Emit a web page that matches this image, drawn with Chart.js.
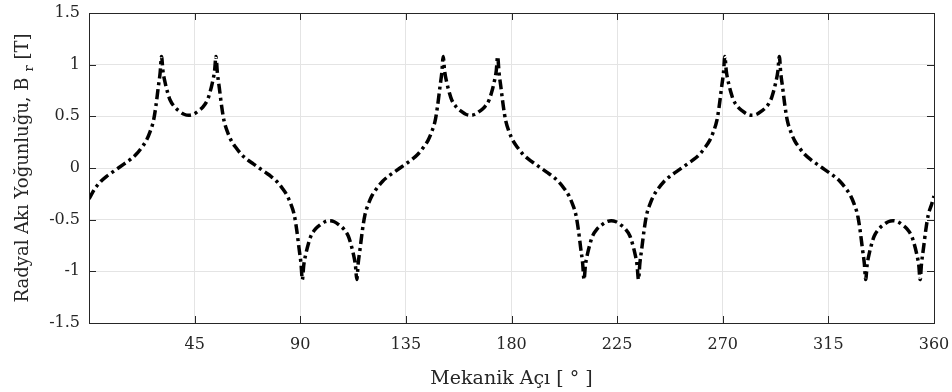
<!DOCTYPE html>
<html>
<head>
<meta charset="utf-8">
<script src="https://cdn.jsdelivr.net/npm/chart.js@4.4.1/dist/chart.umd.min.js"></script>
<style>
  html, body { margin: 0; padding: 0; background: #fff; }
  #wrap { width: 952px; height: 392px; }
</style>
</head>
<body>
<div id="wrap"><canvas id="chart" width="952" height="392"></canvas></div>
<script>
// Radial flux density vs mechanical angle
const angles = [
  0, 2.5, 5, 7.5, 10,
  12.5, 15, 17.5, 20, 22.5, 24.5, 26, 27.5, 28.5, 29.5, 30.3, 30.9, 31.5, 32.5, 33.5, 34.5, 36.5, 38.5, 40.5,
  42.5, 44.5, 46.5, 48.5, 50.5, 51.5, 52.5, 53.5, 54.1, 54.7, 55.5, 56.5, 57.5, 59, 60.5, 62.5, 65, 67.5, 70,
  72.5, 75, 77.5, 80, 82.5, 84.5, 86, 87.5, 88.5, 89.5, 90.3, 90.9, 91.5, 92.5, 93.5, 94.5, 96.5, 98.5, 100.5,
  102.5, 104.5, 106.5, 108.5, 110.5, 111.5, 112.5, 113.5, 114.1, 114.7, 115.5, 116.5, 117.5, 119, 120.5, 122.5, 125, 127.5, 130,
  132.5, 135, 137.5, 140, 142.5, 144.5, 146, 147.5, 148.5, 149.5, 150.3, 150.9, 151.5, 152.5, 153.5, 154.5, 156.5, 158.5, 160.5,
  162.5, 164.5, 166.5, 168.5, 170.5, 171.5, 172.5, 173.5, 174.1, 174.7, 175.5, 176.5, 177.5, 179, 180.5, 182.5, 185, 187.5, 190,
  192.5, 195, 197.5, 200, 202.5, 204.5, 206, 207.5, 208.5, 209.5, 210.3, 210.9, 211.5, 212.5, 213.5, 214.5, 216.5, 218.5, 220.5,
  222.5, 224.5, 226.5, 228.5, 230.5, 231.5, 232.5, 233.5, 234.1, 234.7, 235.5, 236.5, 237.5, 239, 240.5, 242.5, 245, 247.5, 250,
  252.5, 255, 257.5, 260, 262.5, 264.5, 266, 267.5, 268.5, 269.5, 270.3, 270.9, 271.5, 272.5, 273.5, 274.5, 276.5, 278.5, 280.5,
  282.5, 284.5, 286.5, 288.5, 290.5, 291.5, 292.5, 293.5, 294.1, 294.7, 295.5, 296.5, 297.5, 299, 300.5, 302.5, 305, 307.5, 310,
  312.5, 315, 317.5, 320, 322.5, 324.5, 326, 327.5, 328.5, 329.5, 330.3, 330.9, 331.5, 332.5, 333.5, 334.5, 336.5, 338.5, 340.5,
  342.5, 344.5, 346.5, 348.5, 350.5, 351.5, 352.5, 353.5, 354.1, 354.7, 355.5, 356.5, 357.5, 359, 360
];

const brValues = [
  -0.3, -0.2, -0.13, -0.08, -0.04,
  0, 0.04, 0.08, 0.13, 0.2, 0.27, 0.35, 0.46, 0.6, 0.78, 0.92, 1.08, 0.94, 0.82, 0.73, 0.66, 0.59, 0.55, 0.52,
  0.51, 0.52, 0.55, 0.59, 0.66, 0.73, 0.82, 0.94, 1.08, 0.92, 0.78, 0.6, 0.46, 0.35, 0.27, 0.2, 0.13, 0.08, 0.04,
  0, -0.04, -0.08, -0.13, -0.2, -0.27, -0.35, -0.46, -0.6, -0.78, -0.92, -1.08, -0.94, -0.82, -0.73, -0.66, -0.59, -0.55, -0.52,
  -0.51, -0.52, -0.55, -0.59, -0.66, -0.73, -0.82, -0.94, -1.08, -0.92, -0.78, -0.6, -0.46, -0.35, -0.27, -0.2, -0.13, -0.08, -0.04,
  0, 0.04, 0.08, 0.13, 0.2, 0.27, 0.35, 0.46, 0.6, 0.78, 0.92, 1.08, 0.94, 0.82, 0.73, 0.66, 0.59, 0.55, 0.52,
  0.51, 0.52, 0.55, 0.59, 0.66, 0.73, 0.82, 0.94, 1.08, 0.92, 0.78, 0.6, 0.46, 0.35, 0.27, 0.2, 0.13, 0.08, 0.04,
  0, -0.04, -0.08, -0.13, -0.2, -0.27, -0.35, -0.46, -0.6, -0.78, -0.92, -1.08, -0.94, -0.82, -0.73, -0.66, -0.59, -0.55, -0.52,
  -0.51, -0.52, -0.55, -0.59, -0.66, -0.73, -0.82, -0.94, -1.08, -0.92, -0.78, -0.6, -0.46, -0.35, -0.27, -0.2, -0.13, -0.08, -0.04,
  0, 0.04, 0.08, 0.13, 0.2, 0.27, 0.35, 0.46, 0.6, 0.78, 0.92, 1.08, 0.94, 0.82, 0.73, 0.66, 0.59, 0.55, 0.52,
  0.51, 0.52, 0.55, 0.59, 0.66, 0.73, 0.82, 0.94, 1.08, 0.92, 0.78, 0.6, 0.46, 0.35, 0.27, 0.2, 0.13, 0.08, 0.04,
  0, -0.04, -0.08, -0.13, -0.2, -0.27, -0.35, -0.46, -0.6, -0.78, -0.92, -1.08, -0.94, -0.82, -0.73, -0.66, -0.59, -0.55, -0.52,
  -0.51, -0.52, -0.55, -0.59, -0.66, -0.73, -0.82, -0.94, -1.08, -0.92, -0.78, -0.6, -0.46, -0.35, -0.27, -0.3
];

const xTicks = [45, 90, 135, 180, 225, 270, 315, 360];
const yTicks = [-1.5, -1, -0.5, 0, 0.5, 1, 1.5];
const xTitle = 'Mekanik Açı [ ° ]';
const yTitle = ['Radyal Akı Yoğunluğu, B', 'r', ' [T]'];

const FONT = 'DejaVu Serif';
const INK = '#262626';

// MATLAB-like box with inward tick marks and the two axis titles
const axesDecor = {
  id: 'axesDecor',
  afterDraw(chart) {
    const { ctx, chartArea: a, scales } = chart;
    ctx.save();
    ctx.strokeStyle = INK;
    ctx.lineWidth = 1;
    ctx.strokeRect(Math.round(a.left) + 0.5, Math.round(a.top) + 0.5,
      Math.round(a.right - a.left), Math.round(a.bottom - a.top));

    const tl = 7;
    ctx.beginPath();
    for (const v of xTicks) {
      const px = Math.round(scales.x.getPixelForValue(v)) + 0.5;
      ctx.moveTo(px, a.bottom); ctx.lineTo(px, a.bottom - tl);
      ctx.moveTo(px, a.top); ctx.lineTo(px, a.top + tl);
    }
    for (const v of yTicks) {
      const py = Math.round(scales.y.getPixelForValue(v)) + 0.5;
      ctx.moveTo(a.left, py); ctx.lineTo(a.left + tl, py);
      ctx.moveTo(a.right, py); ctx.lineTo(a.right - tl, py);
    }
    ctx.stroke();

    // x title
    ctx.fillStyle = INK;
    ctx.font = `19px "${FONT}"`;
    ctx.textAlign = 'center';
    ctx.textBaseline = 'alphabetic';
    ctx.fillText(xTitle, (a.left + a.right) / 2, 384);

    // y title with subscript r
    ctx.translate(28, (a.top + a.bottom) / 2);
    ctx.rotate(-Math.PI / 2);
    ctx.textAlign = 'left';
    const big = `18px "${FONT}"`, small = `13px "${FONT}"`;
    ctx.font = big;
    const w1 = ctx.measureText(yTitle[0]).width;
    const w3 = ctx.measureText(yTitle[2]).width;
    ctx.font = small;
    const w2 = ctx.measureText(yTitle[1]).width;
    const gap = 6;
    let x0 = -(w1 + gap + w2 + w3) / 2;
    ctx.font = big;
    ctx.fillText(yTitle[0], x0, 0);
    ctx.font = small;
    ctx.fillText(yTitle[1], x0 + w1 + gap, 5);
    ctx.font = big;
    ctx.fillText(yTitle[2], x0 + w1 + gap + w2, 0);
    ctx.restore();
  }
};

new Chart(document.getElementById('chart'), {
  type: 'line',
  data: {
    datasets: [{
      data: angles.map((a, i) => ({ x: a, y: brValues[i] })),
      borderColor: '#000',
      borderWidth: 3.5,
      borderDash: [10, 4, 3, 4],
      pointRadius: 0,
      fill: false,
      cubicInterpolationMode: 'monotone',
    }]
  },
  options: {
    responsive: false,
    animation: false,
    devicePixelRatio: 1,
    layout: { padding: { top: 13, right: 18, left: 0, bottom: 0 } },
    plugins: { legend: { display: false }, tooltip: { enabled: false } },
    scales: {
      x: {
        type: 'linear',
        min: 0,
        max: 360,
        afterBuildTicks: s => { s.ticks = [0, ...xTicks].map(v => ({ value: v })); },
        ticks: {
          callback: v => (v === 0 ? '' : String(v)),
          font: { family: FONT, size: 16 },
          color: INK,
          padding: 12,
          maxRotation: 0,
          autoSkip: false,
        },
        grid: { color: '#e4e4e4', drawTicks: false },
        border: { display: false },
        afterFit: s => { s.height = 69; s.paddingLeft = 0; s.paddingRight = 0; },
      },
      y: {
        min: -1.5,
        max: 1.5,
        afterBuildTicks: s => { s.ticks = yTicks.map(v => ({ value: v })); },
        ticks: {
          callback: v => String(v),
          font: { family: FONT, size: 16 },
          color: INK,
          padding: 9,
        },
        grid: { color: '#e4e4e4', drawTicks: false },
        border: { display: false },
        afterFit: s => { s.width = 89; s.paddingTop = 0; s.paddingBottom = 0; },
      }
    }
  },
  plugins: [axesDecor]
});
</script>
</body>
</html>
